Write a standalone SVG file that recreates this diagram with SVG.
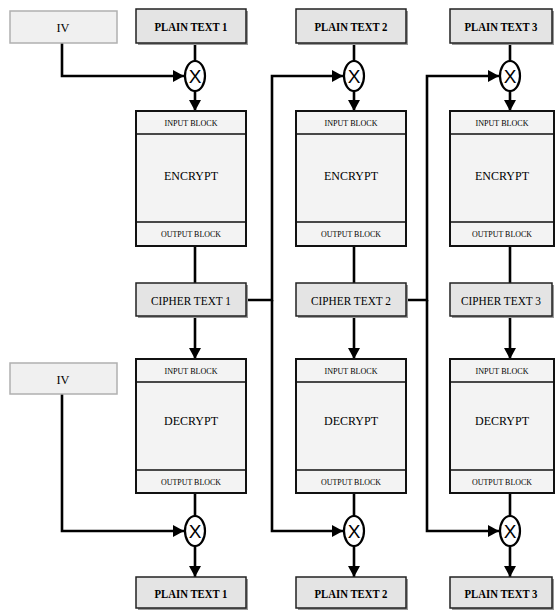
<svg xmlns="http://www.w3.org/2000/svg" width="556" height="611" viewBox="0 0 556 611">
<style>
.lbl{fill:#e4e4e4;stroke:#222;stroke-width:1.5}
.shadow{fill:#999}
.iv{fill:#f0f0f0;stroke:#b0b0b0;stroke-width:1.5}
.blk{fill:#f3f3f3;stroke:#111;stroke-width:2}
.sep{stroke:#111;stroke-width:1.5;fill:none}
.xor{fill:#fff;stroke:#000;stroke-width:2.2}
.conn{fill:none;stroke:#000;stroke-width:2.6}
text{font-family:"Liberation Serif","Times New Roman",serif;fill:#000;text-anchor:middle}
.t{font-size:13px;font-weight:bold}
.m{font-size:13px}
.s{font-size:8px}
.x{font-size:19px;font-family:"Liberation Sans",Arial,sans-serif}
</style>
<defs>
<marker id="ah" markerUnits="userSpaceOnUse" markerWidth="14" markerHeight="14" refX="11" refY="6" orient="auto">
<path d="M0,0 L11,6 L0,12 Z" fill="#000"/>
</marker>
</defs>

<g id="connectors">
<path class="conn" d="M62,43 V76 H184" marker-end="url(#ah)"/>
<path class="conn" d="M195,43 V61"/>
<path class="conn" d="M195,91 V111" marker-end="url(#ah)"/>
<path class="conn" d="M354,43 V61"/>
<path class="conn" d="M354,91 V111" marker-end="url(#ah)"/>
<path class="conn" d="M510,43 V61"/>
<path class="conn" d="M510,91 V111" marker-end="url(#ah)"/>
<path class="conn" d="M195,246 V283"/>
<path class="conn" d="M354,246 V283"/>
<path class="conn" d="M510,246 V283"/>
<path class="conn" d="M195,316 V359" marker-end="url(#ah)"/>
<path class="conn" d="M354,316 V359" marker-end="url(#ah)"/>
<path class="conn" d="M510,316 V359" marker-end="url(#ah)"/>
<path class="conn" d="M246,300 H272 V76 H343" marker-end="url(#ah)"/>
<path class="conn" d="M272,300 V531 H343" marker-end="url(#ah)"/>
<path class="conn" d="M406,300 H427 V76 H499" marker-end="url(#ah)"/>
<path class="conn" d="M427,300 V531 H499" marker-end="url(#ah)"/>
<path class="conn" d="M62,394 V531 H184" marker-end="url(#ah)"/>
<path class="conn" d="M195,493 V516"/>
<path class="conn" d="M195,546 V577" marker-end="url(#ah)"/>
<path class="conn" d="M354,493 V516"/>
<path class="conn" d="M354,546 V577" marker-end="url(#ah)"/>
<path class="conn" d="M510,493 V516"/>
<path class="conn" d="M510,546 V577" marker-end="url(#ah)"/>
</g>

<g id="iv1"><rect class="iv" x="10" y="11" width="107" height="32"/><text class="m" x="63" y="32" textLength="13" lengthAdjust="spacingAndGlyphs">IV</text></g>
<g id="iv2"><rect class="iv" x="10" y="363" width="107" height="31"/><text class="m" x="63" y="384" textLength="13" lengthAdjust="spacingAndGlyphs">IV</text></g>

<g id="pt1"><rect class="shadow" x="138" y="11" width="110" height="34"/><rect class="lbl" x="136" y="9" width="110" height="34"/><text class="t" x="191" y="31" textLength="73" lengthAdjust="spacingAndGlyphs">PLAIN TEXT 1</text></g>
<g id="pt2"><rect class="shadow" x="298" y="11" width="110" height="34"/><rect class="lbl" x="296" y="9" width="110" height="34"/><text class="t" x="351" y="31" textLength="73" lengthAdjust="spacingAndGlyphs">PLAIN TEXT 2</text></g>
<g id="pt3"><rect class="shadow" x="452" y="11" width="102" height="34"/><rect class="lbl" x="450" y="9" width="102" height="34"/><text class="t" x="501" y="31" textLength="73" lengthAdjust="spacingAndGlyphs">PLAIN TEXT 3</text></g>

<g id="xor1"><ellipse class="xor" cx="195" cy="76" rx="10" ry="15"/><text class="x" x="195" y="83">X</text></g>
<g id="xor2"><ellipse class="xor" cx="354" cy="76" rx="10" ry="15"/><text class="x" x="354" y="83">X</text></g>
<g id="xor3"><ellipse class="xor" cx="510" cy="76" rx="10" ry="15"/><text class="x" x="510" y="83">X</text></g>

<g id="enc1"><rect class="blk" x="136" y="111" width="110" height="135"/><path class="sep" d="M136,134 H246 M136,222 H246"/>
<text class="s" x="191" y="126" textLength="53" lengthAdjust="spacingAndGlyphs">INPUT BLOCK</text>
<text class="m" x="191" y="180" textLength="54" lengthAdjust="spacingAndGlyphs">ENCRYPT</text>
<text class="s" x="191" y="237" textLength="60" lengthAdjust="spacingAndGlyphs">OUTPUT BLOCK</text></g>
<g id="enc2"><rect class="blk" x="296" y="111" width="110" height="135"/><path class="sep" d="M296,134 H406 M296,222 H406"/>
<text class="s" x="351" y="126" textLength="53" lengthAdjust="spacingAndGlyphs">INPUT BLOCK</text>
<text class="m" x="351" y="180" textLength="54" lengthAdjust="spacingAndGlyphs">ENCRYPT</text>
<text class="s" x="351" y="237" textLength="60" lengthAdjust="spacingAndGlyphs">OUTPUT BLOCK</text></g>
<g id="enc3"><rect class="blk" x="450" y="111" width="104" height="135"/><path class="sep" d="M450,134 H554 M450,222 H554"/>
<text class="s" x="502" y="126" textLength="53" lengthAdjust="spacingAndGlyphs">INPUT BLOCK</text>
<text class="m" x="502" y="180" textLength="54" lengthAdjust="spacingAndGlyphs">ENCRYPT</text>
<text class="s" x="502" y="237" textLength="60" lengthAdjust="spacingAndGlyphs">OUTPUT BLOCK</text></g>

<g id="ct1"><rect class="shadow" x="138" y="285" width="110" height="33"/><rect class="lbl" x="136" y="283" width="110" height="33"/><text class="m" x="191" y="305" textLength="80" lengthAdjust="spacingAndGlyphs">CIPHER TEXT 1</text></g>
<g id="ct2"><rect class="shadow" x="298" y="285" width="110" height="33"/><rect class="lbl" x="296" y="283" width="110" height="33"/><text class="m" x="351" y="305" textLength="80" lengthAdjust="spacingAndGlyphs">CIPHER TEXT 2</text></g>
<g id="ct3"><rect class="shadow" x="452" y="285" width="102" height="33"/><rect class="lbl" x="450" y="283" width="102" height="33"/><text class="m" x="501" y="305" textLength="80" lengthAdjust="spacingAndGlyphs">CIPHER TEXT 3</text></g>

<g id="dec1"><rect class="blk" x="136" y="359" width="110" height="134"/><path class="sep" d="M136,382 H246 M136,470 H246"/>
<text class="s" x="191" y="374" textLength="53" lengthAdjust="spacingAndGlyphs">INPUT BLOCK</text>
<text class="m" x="191" y="425" textLength="54" lengthAdjust="spacingAndGlyphs">DECRYPT</text>
<text class="s" x="191" y="485" textLength="60" lengthAdjust="spacingAndGlyphs">OUTPUT BLOCK</text></g>
<g id="dec2"><rect class="blk" x="296" y="359" width="110" height="134"/><path class="sep" d="M296,382 H406 M296,470 H406"/>
<text class="s" x="351" y="374" textLength="53" lengthAdjust="spacingAndGlyphs">INPUT BLOCK</text>
<text class="m" x="351" y="425" textLength="54" lengthAdjust="spacingAndGlyphs">DECRYPT</text>
<text class="s" x="351" y="485" textLength="60" lengthAdjust="spacingAndGlyphs">OUTPUT BLOCK</text></g>
<g id="dec3"><rect class="blk" x="450" y="359" width="104" height="134"/><path class="sep" d="M450,382 H554 M450,470 H554"/>
<text class="s" x="502" y="374" textLength="53" lengthAdjust="spacingAndGlyphs">INPUT BLOCK</text>
<text class="m" x="502" y="425" textLength="54" lengthAdjust="spacingAndGlyphs">DECRYPT</text>
<text class="s" x="502" y="485" textLength="60" lengthAdjust="spacingAndGlyphs">OUTPUT BLOCK</text></g>

<g id="xor4"><ellipse class="xor" cx="195" cy="531" rx="10" ry="15"/><text class="x" x="195" y="538">X</text></g>
<g id="xor5"><ellipse class="xor" cx="354" cy="531" rx="10" ry="15"/><text class="x" x="354" y="538">X</text></g>
<g id="xor6"><ellipse class="xor" cx="510" cy="531" rx="10" ry="15"/><text class="x" x="510" y="538">X</text></g>

<g id="pt4"><rect class="shadow" x="138" y="579" width="110" height="31"/><rect class="lbl" x="136" y="577" width="110" height="31"/><text class="t" x="191" y="598" textLength="73" lengthAdjust="spacingAndGlyphs">PLAIN TEXT 1</text></g>
<g id="pt5"><rect class="shadow" x="298" y="579" width="110" height="31"/><rect class="lbl" x="296" y="577" width="110" height="31"/><text class="t" x="351" y="598" textLength="73" lengthAdjust="spacingAndGlyphs">PLAIN TEXT 2</text></g>
<g id="pt6"><rect class="shadow" x="452" y="579" width="102" height="31"/><rect class="lbl" x="450" y="577" width="102" height="31"/><text class="t" x="501" y="598" textLength="73" lengthAdjust="spacingAndGlyphs">PLAIN TEXT 3</text></g>
</svg>
